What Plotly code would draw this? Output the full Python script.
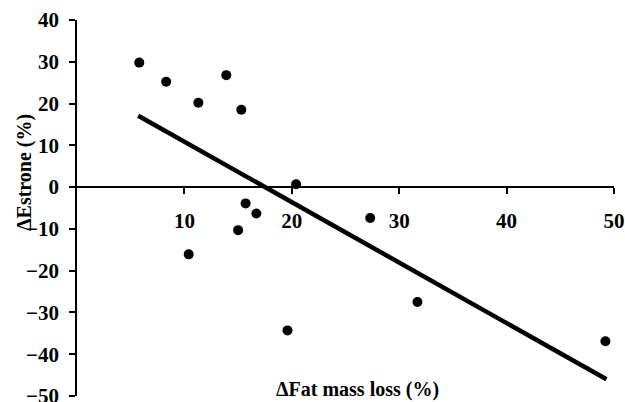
import plotly.graph_objects as go

# Data
fat_mass_loss = [5.8, 8.3, 11.3, 13.9, 15.3, 20.4, 15.7, 16.7, 15.0, 10.4, 27.3, 19.6, 31.7, 49.2]
estrone_change = [29.8, 25.2, 20.2, 26.8, 18.5, 0.7, -3.9, -6.3, -10.3, -16.1, -7.4, -34.3, -27.5, -36.9]

fit_x = [5.7, 49.3]
fit_y = [17.1, -46.0]

x_ticks = [10, 20, 30, 40, 50]
y_ticks = [-50, -40, -30, -20, -10, 0, 10, 20, 30, 40]

FONT = "Liberation Serif"

fig = go.Figure()
fig.add_trace(go.Scatter(
    x=fit_x, y=fit_y, mode="lines",
    line=dict(color="black", width=4.5),
    showlegend=False, hoverinfo="skip",
))
fig.add_trace(go.Scatter(
    x=fat_mass_loss, y=estrone_change, mode="markers",
    marker=dict(color="black", size=10),
    showlegend=False,
))

fig.update_layout(
    width=625, height=402, autosize=False,
    margin=dict(l=77, r=11, t=20, b=6),
    paper_bgcolor="white", plot_bgcolor="white",
    font=dict(family=FONT, size=21, color="black"),
    xaxis=dict(
        range=[0, 50], anchor="free", position=50 / 90,
        showline=True, linecolor="black", linewidth=1.5,
        ticks="outside", ticklen=6, tickwidth=1.5, tickcolor="black",
        tickvals=x_ticks, ticktext=[f"<b>{v}</b>" for v in x_ticks],
        ticklabelstandoff=9, automargin=False,
        showgrid=False, zeroline=False,
    ),
    yaxis=dict(
        range=[-50, 40],
        showline=True, linecolor="black", linewidth=1.5,
        ticks="outside", ticklen=6, tickwidth=1.5, tickcolor="black",
        tickvals=y_ticks,
        ticktext=[f"<b>{'−' + str(-v) if v < 0 else v}</b>" for v in y_ticks],
        ticklabelstandoff=6, ticklabeloverflow="allow", automargin=False,
        showgrid=False, zeroline=False,
    ),
    annotations=[
        dict(text="<b>ΔFat mass loss (%)</b>", xref="paper", yref="paper",
             x=(357 - 77) / 537, y=(402 - 6 - 389) / 376,
             xanchor="center", yanchor="middle", showarrow=False,
             font=dict(family=FONT, size=20)),
        dict(text="<b>ΔEstrone (%)</b>", xref="paper", yref="paper",
             x=(24 - 77) / 537, y=(402 - 6 - 172) / 376,
             xanchor="center", yanchor="middle", showarrow=False, textangle=-90,
             font=dict(family=FONT, size=20)),
    ],
)

fig.write_html("out.html")
